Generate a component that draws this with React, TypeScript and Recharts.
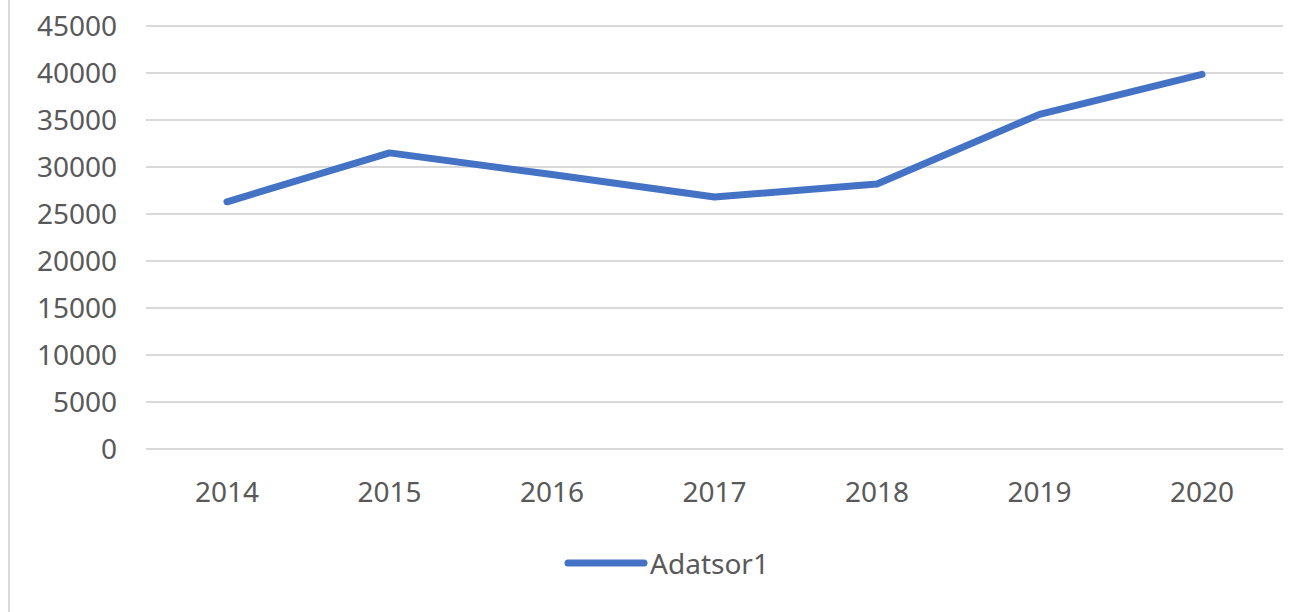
import React from 'react';
import { LineChart, Line, XAxis, YAxis, CartesianGrid, Legend } from 'recharts';

const years = ['2014', '2015', '2016', '2017', '2018', '2019', '2020'];
const values = [26300, 31500, 29200, 26800, 28200, 35600, 39850];
const yTicks = [0, 5000, 10000, 15000, 20000, 25000, 30000, 35000, 40000, 45000];
const seriesName = 'Adatsor1';

const data = years.map((y, i) => ({ year: y, value: values[i] }));

const FONT = '"Noto Sans", "Open Sans", sans-serif';
const TEXT = '#595959';
const BLUE = '#4472C4';

const LegendContent = () => (
  <div style={{ display: 'flex', justifyContent: 'center', alignItems: 'center', paddingLeft: 12 }}>
    <svg width={84} height={12} style={{ display: 'block' }}>
      <line x1={4} y1={6} x2={80} y2={6} stroke={BLUE} strokeWidth={7} strokeLinecap="round" />
    </svg>
    <span style={{ fontFamily: FONT, fontSize: 28, color: TEXT, marginLeft: 2 }}>{seriesName}</span>
  </div>
);

export default function App() {
  return (
    <div style={{ position: 'absolute', left: 8, top: 0, width: 1303, height: 612, borderLeft: '2px solid #d9d9d9', background: '#fff' }}>
      <LineChart
        width={1301}
        height={612}
        data={data}
        margin={{ top: 26, right: 28, left: 0, bottom: 103 }}
      >
        <CartesianGrid vertical={false} stroke="#d9d9d9" strokeWidth={2} />
        <XAxis
          dataKey="year"
          axisLine={false}
          tickLine={false}
          tickSize={0}
          tickMargin={33}
          height={60}
          padding={{ left: 81, right: 81 }}
          tick={{ fill: TEXT, fontSize: 28, fontFamily: FONT }}
        />
        <YAxis
          domain={[0, 45000]}
          ticks={yTicks}
          width={136}
          axisLine={false}
          tickLine={false}
          tickSize={0}
          tickMargin={29}
          interval={0}
          tick={{ fill: TEXT, fontSize: 28, fontFamily: FONT }}
        />
        <Legend
          layout="horizontal"
          verticalAlign="middle"
          align="center"
          content={<LegendContent />}
          wrapperStyle={{ top: 544, left: 0, width: 1301 }}
        />
        <Line
          type="linear"
          dataKey="value"
          name={seriesName}
          stroke={BLUE}
          strokeWidth={7}
          strokeLinecap="round"
          strokeLinejoin="round"
          dot={false}
          activeDot={false}
          isAnimationActive={false}
        />
      </LineChart>
    </div>
  );
}
